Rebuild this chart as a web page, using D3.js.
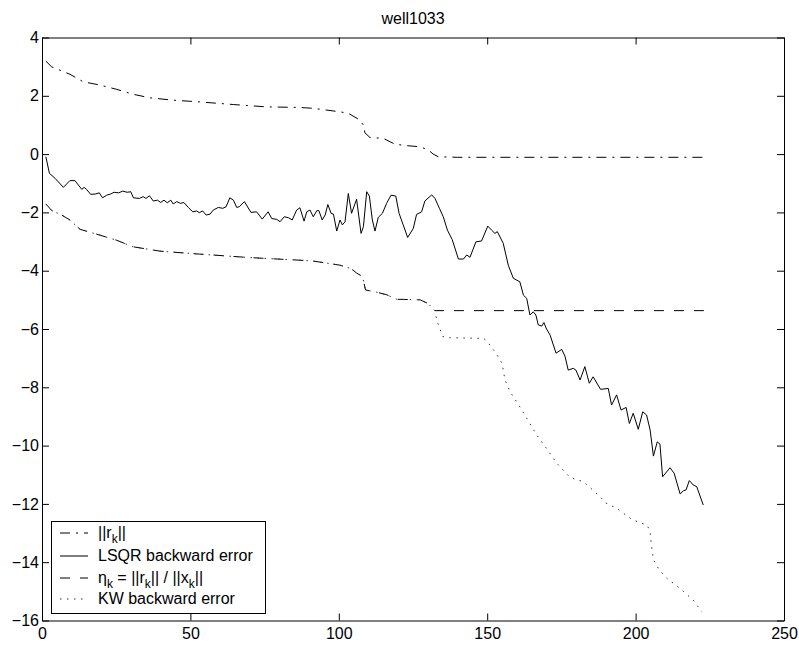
<!DOCTYPE html>
<html>
<head>
<meta charset="utf-8">
<script src="https://cdn.jsdelivr.net/npm/d3@7"></script>
<style>
  html, body { margin: 0; padding: 0; background: #fff; }
  svg { display: block; font-family: "Liberation Sans", Arial, Helvetica, sans-serif; }
</style>
</head>
<body>
<svg id="chart" width="799" height="645"></svg>
<script>
// well1033: LSQR convergence history (log10 scale)
const chartTitle = "well1033";
const xTicks = [0, 50, 100, 150, 200, 250];
const yTicks = [-16, -14, -12, -10, -8, -6, -4, -2, 0, 2, 4];

// ||r_k||
const rkIter = [1.3, 3.3, 9.4, 13.9, 19.5, 25.2, 30.8, 36.4, 44.2, 53.2, 64.5, 75.7, 86.9, 91.4, 100.4, 103.2, 107.1, 108.3, 108.8, 110.5, 115, 118.9, 122.9, 127.4, 130.2, 131.8, 133.5, 140, 223];
const rkVal  = [3.19, 2.99, 2.74, 2.48, 2.37, 2.22, 2.05, 1.93, 1.85, 1.79, 1.70, 1.62, 1.60, 1.57, 1.45, 1.40, 1.17, 0.99, 0.73, 0.57, 0.54, 0.34, 0.29, 0.25, 0.14, 0.0, -0.09, -0.11, -0.11];

// LSQR backward error
const lsqrIter = [1.3, 2.5, 4.4, 7.2, 9.4, 11.1, 13.4, 14.2, 15, 16.4, 17.9, 19.3, 20.4, 21.8, 23.1, 24.3, 25.8, 27.2, 28.7, 29.9, 30.8, 32.8, 34.1, 35, 36.2, 37.5, 38.9, 40, 41.1, 42.2, 43.4, 44.2, 45.4, 46.7, 47.8, 49.3, 50.8, 52.1, 53, 54.1, 55.3, 56.6, 57.7, 59.4, 60.9, 62, 63.3, 64.5, 65.6, 66.5, 68.2, 70.4, 72.3, 74.2, 76.2, 77.4, 79.1, 80.2, 81.6, 83, 84.3, 85.8, 86.9, 88.3, 89.2, 90.3, 91.4, 92.6, 93.3, 94.4, 95.4, 96.3, 97.4, 98.2, 99.3, 100.4, 101.2, 102.1, 103.2, 104.3, 106, 107.5, 108.3, 109.4, 110.3, 111.3, 112.2, 113.3, 114.7, 116.1, 117.6, 119.2, 120.3, 121.7, 123.2, 125.1, 126.2, 127.9, 129, 131.3, 132.4, 133.9, 135.2, 136.6, 138.2, 140.3, 142, 143.1, 144.2, 146.2, 148.1, 150.2, 151.5, 152.6, 153.4, 155.4, 157.1, 158.8, 161, 162.2, 163.3, 164.4, 165.5, 166.4, 167.2, 168.4, 169.1, 170, 171.2, 173.2, 175.1, 176.2, 177.3, 179, 179.9, 181.3, 182.9, 184.4, 185.7, 188.2, 190.8, 191.9, 193.6, 195.1, 196.8, 197.9, 199.2, 200.9, 202.4, 203.7, 204.9, 206, 207.3, 208.2, 209.1, 211.6, 213, 215, 216.1, 217, 218.1, 219.4, 220.6, 222.8];
const lsqrVal  = [-0.09, -0.66, -0.83, -1.14, -0.91, -0.91, -1.21, -1.14, -1.21, -1.38, -1.37, -1.33, -1.50, -1.41, -1.37, -1.31, -1.33, -1.27, -1.31, -1.29, -1.50, -1.52, -1.46, -1.52, -1.43, -1.61, -1.58, -1.66, -1.58, -1.67, -1.58, -1.71, -1.63, -1.69, -1.66, -1.83, -1.98, -1.95, -2.01, -1.95, -2.09, -2.06, -1.92, -1.83, -1.86, -1.81, -1.50, -1.58, -1.83, -1.80, -1.63, -2.00, -1.98, -2.23, -1.98, -2.21, -2.24, -2.32, -2.15, -2.18, -2.26, -1.92, -1.84, -2.30, -1.98, -1.92, -2.15, -1.94, -1.94, -2.26, -2.09, -1.73, -2.03, -2.06, -2.64, -2.26, -2.43, -2.32, -1.35, -2.03, -1.55, -2.72, -2.49, -1.29, -1.44, -2.26, -2.64, -2.17, -2.03, -1.69, -1.41, -1.44, -2.03, -2.43, -2.86, -2.55, -2.07, -1.98, -1.61, -1.40, -1.52, -1.86, -2.15, -2.61, -2.93, -3.60, -3.60, -3.46, -3.54, -3.01, -2.98, -2.47, -2.61, -2.72, -2.66, -3.06, -3.81, -4.26, -4.38, -4.84, -4.95, -5.52, -5.41, -5.52, -5.86, -5.90, -5.78, -6.00, -6.21, -6.83, -6.70, -6.93, -7.41, -7.35, -7.41, -7.75, -7.29, -7.86, -7.64, -8.07, -8.04, -8.61, -8.26, -8.78, -8.69, -9.24, -8.89, -9.44, -8.84, -8.95, -9.47, -10.36, -9.87, -9.95, -11.07, -10.76, -10.95, -11.66, -11.55, -11.52, -11.20, -11.35, -11.41, -12.04];

// eta_k = ||r_k|| / ||x_k||
const etaIter = [1.3, 3.3, 6.6, 9.4, 12.8, 19.5, 25, 30.7, 39.8, 53, 70, 87, 91.4, 100.4, 104, 106, 108, 109, 112.8, 116, 119.5, 127.4, 130, 132.4, 223];
const etaVal  = [-1.71, -1.94, -2.09, -2.26, -2.58, -2.78, -2.95, -3.18, -3.33, -3.43, -3.55, -3.64, -3.67, -3.81, -3.92, -4.08, -4.20, -4.66, -4.74, -4.82, -4.98, -5.00, -5.12, -5.37, -5.37];

// KW backward error
const kwIter = [1.3, 3.3, 6.6, 9.4, 12.8, 19.5, 25, 30.7, 39.8, 53, 70, 87, 91.4, 100.4, 104, 106, 108, 109, 112.8, 116, 119.5, 127.4, 130, 132.4, 133, 135, 137.5, 148.7, 149.8, 153, 155, 156, 157.7, 161, 163.3, 166.7, 170, 173.4, 178, 182.5, 188, 190, 193.6, 199, 203.7, 204.8, 205.4, 206, 208, 210.5, 215, 219.4, 222.3];
const kwVal  = [-1.71, -1.94, -2.09, -2.26, -2.58, -2.78, -2.95, -3.18, -3.33, -3.43, -3.55, -3.64, -3.67, -3.81, -3.92, -4.08, -4.20, -4.66, -4.74, -4.82, -4.98, -5.00, -5.12, -5.37, -5.69, -6.26, -6.30, -6.32, -6.40, -6.84, -7.18, -7.75, -8.15, -8.67, -9.06, -9.64, -10.10, -10.60, -11.10, -11.24, -11.75, -11.97, -12.15, -12.55, -12.72, -12.90, -13.47, -13.92, -14.27, -14.55, -14.90, -15.30, -15.70];

const legendLabels = ["||r_k||", "LSQR backward error", "η_k = ||r_k|| / ||x_k||", "KW backward error"];

const svg = d3.select("#chart");
const plot = { left: 42, right: 784, top: 37.5, bottom: 620.5 };

const x = d3.scaleLinear().domain([0, 250]).range([plot.left, plot.right]);
const y = d3.scaleLinear().domain([-16, 4]).range([plot.bottom, plot.top]);

svg.append("rect")
  .attr("x", plot.left).attr("y", plot.top)
  .attr("width", plot.right - plot.left).attr("height", plot.bottom - plot.top)
  .attr("fill", "#fff");

const fmt = d3.format("");
const tickLen = 7;
const fontSize = "16px";

const axisStyle = g => {
  g.selectAll("path.domain").attr("stroke", "#000").attr("stroke-width", 1);
  g.selectAll(".tick line").attr("stroke", "#000").attr("stroke-width", 1);
  g.selectAll(".tick text").attr("fill", "#000").style("font-size", fontSize)
    .style("font-family", "'Liberation Sans', Arial, Helvetica, sans-serif");
};

svg.append("g").attr("transform", `translate(0,${plot.bottom})`)
  .call(d3.axisBottom(x).tickValues(xTicks).tickFormat(fmt).tickSizeInner(-tickLen).tickSizeOuter(0).tickPadding(7))
  .call(axisStyle);
svg.append("g").attr("transform", `translate(0,${plot.top})`)
  .call(d3.axisTop(x).tickValues(xTicks).tickFormat("").tickSizeInner(-tickLen).tickSizeOuter(0))
  .call(axisStyle);
svg.append("g").attr("transform", `translate(${plot.left},0)`)
  .call(d3.axisLeft(y).tickValues(yTicks).tickFormat(fmt).tickSizeInner(-tickLen).tickSizeOuter(0).tickPadding(3))
  .call(axisStyle);
svg.append("g").attr("transform", `translate(${plot.right},0)`)
  .call(d3.axisRight(y).tickValues(yTicks).tickFormat("").tickSizeInner(-tickLen).tickSizeOuter(0))
  .call(axisStyle);

// title
svg.append("text")
  .attr("x", (plot.left + plot.right) / 2).attr("y", 24)
  .attr("text-anchor", "middle")
  .style("font-size", fontSize)
  .text(chartTitle);

const line = d3.line().x(d => x(d[0])).y(d => y(d[1]));
const zip = (a, b) => a.map((v, i) => [v, b[i]]);

const series = [
  { name: legendLabels[0], data: zip(rkIter, rkVal), dash: "10,6,2,6", width: 1, color: "#000" },
  { name: legendLabels[1], data: zip(lsqrIter, lsqrVal), dash: null, width: 1, color: "#000" },
  { name: legendLabels[2], data: zip(etaIter, etaVal), dash: "10,10", width: 1, color: "#000" },
  { name: legendLabels[3], data: zip(kwIter, kwVal), dash: "1.5,5.5", width: 1, color: "#333" }
];

const lines = svg.append("g");
series.forEach(s => {
  lines.append("path")
    .datum(s.data)
    .attr("d", line)
    .attr("fill", "none")
    .attr("stroke", s.color)
    .attr("stroke-width", s.width)
    .attr("stroke-dasharray", s.dash);
});

// legend
const lg = svg.append("g");
const lgBox = { x: 51.5, y: 521.5, w: 214, h: 92 };
lg.append("rect")
  .attr("x", lgBox.x).attr("y", lgBox.y).attr("width", lgBox.w).attr("height", lgBox.h)
  .attr("fill", "#fff").attr("stroke", "#000").attr("stroke-width", 1);

const rowY = [533, 556, 578, 599];
const subShift = 5;

// label text, with "_k" set as a lowered subscript
function addLabel(sel, label) {
  const parts = label.split(/(_k)/).filter(p => p.length);
  let shifted = false;
  parts.forEach(p => {
    if (p === "_k") {
      sel.append("tspan").attr("dy", subShift).style("font-size", "12px").text("k");
      shifted = true;
    } else {
      const ts = sel.append("tspan").text(p);
      if (shifted) { ts.attr("dy", -subShift); shifted = false; }
    }
  });
}

series.forEach((s, i) => {
  lg.append("line")
    .attr("x1", 60).attr("x2", 88)
    .attr("y1", rowY[i]).attr("y2", rowY[i])
    .attr("stroke", s.color).attr("stroke-width", s.width)
    .attr("stroke-dasharray", s.dash);
  const t = lg.append("text")
    .attr("x", 98).attr("y", rowY[i] + 5)
    .style("font-size", fontSize);
  addLabel(t, s.name);
});
</script>
</body>
</html>
